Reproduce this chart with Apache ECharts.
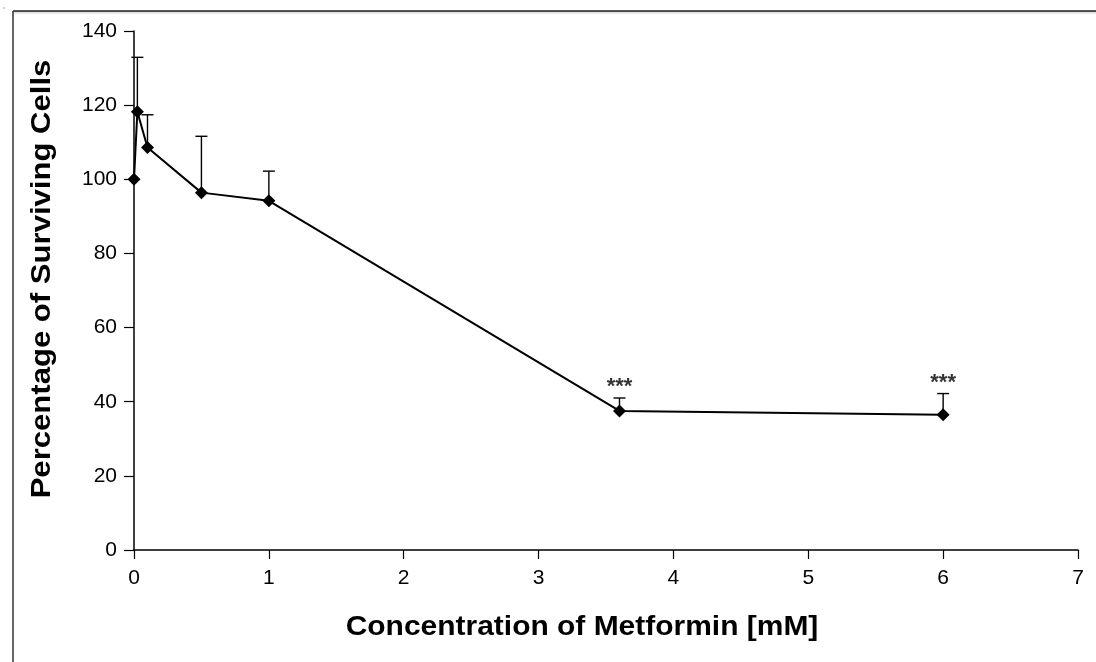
<!DOCTYPE html>
<html>
<head>
<meta charset="utf-8">
<script src="https://cdn.jsdelivr.net/npm/echarts@6/dist/echarts.min.js"></script>
<style>
  html, body { margin: 0; padding: 0; background: #fff; }
  #chart { width: 1096px; height: 662px; }
</style>
</head>
<body>
<div id="chart"></div>
<script>
// Metformin dose (mM) vs. cell survival (%)
const concentrations = [0, 0.025, 0.1, 0.5, 1, 3.6, 6];
const survival = [100, 118.2, 108.6, 96.4, 94.2, 37.5, 36.5];
const errorUpper = [0, 14.7, 8.8, 15.2, 8.0, 3.5, 5.7];
const significance = ['', '', '', '', '', '***', '***'];
const yTicks = [0, 20, 40, 60, 80, 100, 120, 140];
const xTicks = [0, 1, 2, 3, 4, 5, 6, 7];
const xTitle = 'Concentration of Metformin [mM]';
const yTitle = 'Percentage of Surviving Cells';

const font = 'Liberation Sans, Arial, Helvetica, sans-serif';

const lineData = concentrations.map((c, i) => [c, survival[i]]);
const errData = concentrations
  .map((c, i) => [c, survival[i], survival[i] + errorUpper[i]])
  .filter(d => d[2] > d[1]);
const starData = concentrations
  .map((c, i) => ({ value: [c, survival[i] + errorUpper[i]], label: significance[i] }))
  .filter(d => d.label);

const chart = echarts.init(document.getElementById('chart'), null, { renderer: 'canvas' });

chart.setOption({
  animation: false,
  backgroundColor: '#fff',
  grid: { left: 134, right: 18, top: 31, bottom: 112 },
  xAxis: {
    type: 'value',
    min: xTicks[0], max: xTicks[xTicks.length - 1], interval: 1,
    axisLine: { lineStyle: { color: '#000', width: 1.5 } },
    axisTick: { inside: false, length: 9, lineStyle: { color: '#000', width: 1.2 } },
    axisLabel: { color: '#000', fontSize: 21, fontFamily: font, margin: 18 },
    splitLine: { show: false }
  },
  yAxis: {
    type: 'value',
    min: yTicks[0], max: yTicks[yTicks.length - 1], interval: 20,
    axisLine: { show: true, lineStyle: { color: '#000', width: 1.5 } },
    axisTick: { show: true, length: 10, lineStyle: { color: '#000', width: 1.2 } },
    axisLabel: { color: '#000', fontSize: 21, fontFamily: font, margin: 17 },
    splitLine: { show: false }
  },
  graphic: [
    // outer frame
    { type: 'rect', silent: true, shape: { x: 13, y: 11, width: 1083, height: 5 },
      style: { fill: new echarts.graphic.LinearGradient(0, 0, 0, 1, [
        { offset: 0, color: 'rgba(120,120,120,0.5)' }, { offset: 1, color: 'rgba(255,255,255,0)' }]) } },
    { type: 'line', silent: true, shape: { x1: 13, y1: 11, x2: 1096, y2: 11 }, style: { stroke: '#222', lineWidth: 1.5 } },
    { type: 'line', silent: true, shape: { x1: 13, y1: 11, x2: 13, y2: 662 }, style: { stroke: '#333', lineWidth: 1.5 } },
    { type: 'circle', silent: true, shape: { cx: 4, cy: 8, r: 0.8 }, style: { fill: '#999' } },
    // axis titles
    { type: 'text', silent: true, x: 582, y: 627, scaleX: 1.07,
      style: { text: xTitle, font: 'bold 28px ' + font, fill: '#000', align: 'center', verticalAlign: 'middle' } },
    { type: 'text', silent: true, x: 42, y: 279, rotation: Math.PI / 2, scaleX: 1.11,
      style: { text: yTitle, font: 'bold 28px ' + font, fill: '#000', align: 'center', verticalAlign: 'middle' } }
  ],
  series: [
    {
      type: 'custom',
      z: 1,
      renderItem: function (params, api) {
        const base = api.coord([api.value(0), api.value(1)]);
        const top = api.coord([api.value(0), api.value(2)]);
        const half = 6;
        const st = { stroke: '#000', lineWidth: 1.4 };
        return {
          type: 'group',
          children: [
            { type: 'line', shape: { x1: base[0], y1: base[1], x2: top[0], y2: top[1] }, style: st },
            { type: 'line', shape: { x1: top[0] - half, y1: top[1], x2: top[0] + half, y2: top[1] }, style: st }
          ]
        };
      },
      data: errData
    },
    {
      type: 'line',
      z: 3,
      data: lineData,
      symbol: 'diamond',
      symbolSize: 13,
      showAllSymbol: true,
      lineStyle: { color: '#000', width: 2 },
      itemStyle: { color: '#000' }
    },
    {
      type: 'scatter',
      z: 4,
      symbolSize: 0,
      data: starData,
      label: {
        show: true,
        position: 'top',
        distance: 0,
        formatter: p => p.data.label,
        color: '#000',
        fontSize: 22,
        fontWeight: 'bold',
        fontFamily: font
      }
    }
  ]
});
</script>
</body>
</html>
